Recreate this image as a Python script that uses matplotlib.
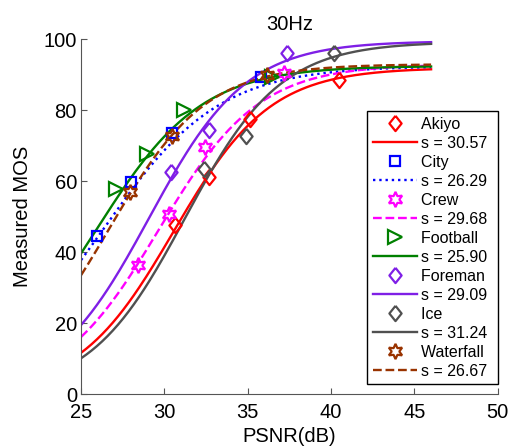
import numpy as np
import matplotlib
matplotlib.use('Agg')
import matplotlib.pyplot as plt
from matplotlib.lines import Line2D

plt.rcParams['font.family'] = ['Liberation Sans', 'DejaVu Sans']

# Measured points (PSNR dB, MOS)
names = ['Akiyo', 'City', 'Crew', 'Football', 'Foreman', 'Ice', 'Waterfall']
psnr = [
    [30.64, 32.67, 35.13, 40.5],
    [25.96, 28.0, 30.46, 35.8],
    [28.42, 30.28, 32.43, 37.2],
    [27.1, 28.96, 31.2, 36.45],
    [30.4, 32.67, 37.35],
    [32.37, 34.9, 40.17],
    [27.94, 30.46, 36.15],
]
mos = [
    [47.7, 61.2, 77.6, 88.5],
    [44.6, 59.8, 73.6, 89.4],
    [36.5, 50.8, 69.7, 90.4],
    [57.8, 67.7, 80.1, 89.4],
    [62.6, 74.4, 96.1],
    [63.5, 72.8, 96.1],
    [57.0, 72.7, 90.0],
]
# fitted logistic curves: mos = a / (1 + exp(-(psnr - s) / b))
s_vals = [30.57, 26.29, 29.68, 25.90, 29.09, 31.24, 26.67]
a_vals = [92.0, 92.5, 93.0, 92.5, 99.5, 99.3, 93.0]
b_vals = [2.89, 3.49, 3.0, 3.16, 2.9, 2.87, 2.92]

colors = ['#ff0000', '#0000ff', '#ff00ff', '#008000', '#7f1fe6', '#505050', '#993300']
styles = ['-', ':', '--', '-', '-', '-', '--']
diamond = [(0, 1), (0.8, 0), (0, -1), (-0.8, 0), (0, 1)]
markers = [diamond, 's', (6, 1, 0), '>', diamond, diamond, (6, 1, 0)]
msizes = [11, 7.5, 11, 10, 11, 11, 11]

fig = plt.figure(figsize=(5.1, 4.47), dpi=100)
ax = fig.add_axes([0.159, 0.118, 0.817, 0.794])

xx = np.linspace(25, 46, 200)
handles = []
labels = []
for i in range(len(names)):
    ax.plot(psnr[i], mos[i], linestyle='none', marker=markers[i], ms=msizes[i],
            mfc='none', mec=colors[i], mew=1.6, zorder=3)
    yy = a_vals[i] / (1 + np.exp(-(xx - s_vals[i]) / b_vals[i]))
    ax.plot(xx, yy, color=colors[i], linestyle=styles[i], lw=1.7, zorder=2)
    handles.append(Line2D([], [], linestyle='none', marker=markers[i], ms=msizes[i],
                          mfc='none', mec=colors[i], mew=1.6))
    labels.append(names[i] + ' ')
    handles.append(Line2D([], [], color=colors[i], linestyle=styles[i], lw=1.7))
    labels.append('s = %.2f ' % s_vals[i])

ax.set_xlim(25, 50)
ax.set_ylim(0, 100)
ax.set_xticks([25, 30, 35, 40, 45, 50])
ax.set_yticks([0, 20, 40, 60, 80, 100])
for side in ['top', 'right']:
    ax.spines[side].set_visible(False)
for side in ['left', 'bottom']:
    ax.spines[side].set_color('#555555')
ax.tick_params(direction='in', labelsize=14.5, length=4, color='#555555')
ax.tick_params(axis='x', pad=6)
ax.tick_params(axis='y', pad=3)
ax.set_xlabel('PSNR(dB)', fontsize=14.5, labelpad=4)
ax.set_ylabel('Measured MOS', fontsize=14.5, labelpad=8)
ax.set_title('30Hz', fontsize=14.5, pad=7)

leg = ax.legend(handles, labels, loc='upper right', bbox_to_anchor=(1.0, 0.797),
                fontsize=11.5, handlelength=2.8, handletextpad=0.25, labelspacing=0.25,
                borderpad=0.35, borderaxespad=0.0, fancybox=False, framealpha=1,
                edgecolor='black')
leg.get_frame().set_linewidth(1.0)

fig.savefig('out.png', dpi=100)
